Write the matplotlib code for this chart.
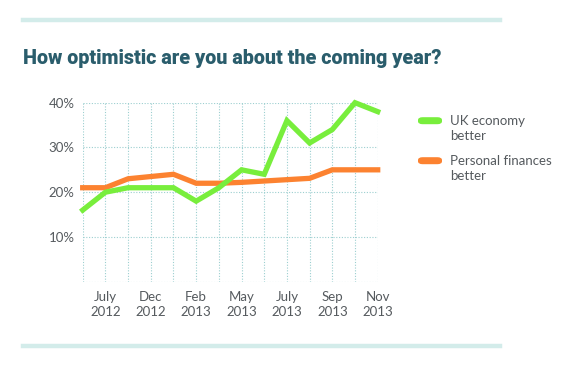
"""
Line chart: How optimistic are you about the coming year?
UK economy vs personal finances, mid 2012 - late 2013.
"""

import matplotlib.pyplot as plt
from matplotlib.patches import FancyBboxPatch
from matplotlib.lines import Line2D

# Data (percent)
uk_economy = [16, 20, 21, 21, 21, 18, 21, 25, 24, 36, 31, 34, 40, 38]
personal_finances = [21, 21, 23, 23.5, 24, 22, 22, 22.2, 22.5, 22.8, 23.1, 25, 25, 25]
tick_positions = [1, 3, 5, 7, 9, 11, 13]
tick_labels = ["July\n2012", "Dec\n2012", "Feb\n2013", "May\n2013",
               "July\n2013", "Sep\n2013", "Nov\n2013"]
y_ticks = [10, 20, 30, 40]
y_tick_labels = ["10%", "20%", "30%", "40%"]
series_names = ["UK economy\nbetter", "Personal finances\nbetter"]

GREEN = "#78ee3c"
ORANGE = "#fc8230"
TITLE_COLOR = "#2a5d6c"
GRID_COLOR = "#9ccfd0"
RULE_COLOR = "#d3ecea"
TEXT_COLOR = "#555a5e"

fig = plt.figure(figsize=(5.7, 3.68), dpi=100)
fig.patch.set_facecolor("white")

# Decorative rules top and bottom
fig.add_artist(Line2D([23 / 570, 500 / 570], [1 - 20 / 368] * 2, color=RULE_COLOR, lw=3.2))
fig.add_artist(Line2D([23 / 570, 500 / 570], [1 - 346 / 368] * 2, color=RULE_COLOR, lw=3.2))

fig.text(23 / 570, 1 - 58 / 368, "How optimistic are you about the coming year?",
         fontsize=14.2, fontweight="heavy", color=TITLE_COLOR,
         family=["Roboto", "DejaVu Sans"], va="center", ha="left")

ax = fig.add_axes([82.7 / 570, 1 - 281.7 / 368, 295 / 570, 179 / 368])
x = list(range(len(uk_economy)))
ax.plot(x, personal_finances, color=ORANGE, lw=3.8, solid_joinstyle="miter", clip_on=False, zorder=3)
ax.plot(x, uk_economy, color=GREEN, lw=3.8, solid_joinstyle="miter", clip_on=False, zorder=4)

ax.set_xlim(0, len(uk_economy) - 1)
ax.set_ylim(0, 40)
ax.set_xticks(x)
ax.set_xticklabels(["" for _ in x])
ax.set_yticks([0] + y_ticks)
ax.set_yticklabels([""] + y_tick_labels)
ax.grid(True, color=GRID_COLOR, linestyle=(0, (1, 1.5)), lw=0.8)
for spine in ax.spines.values():
    spine.set_visible(False)
ax.tick_params(length=0, pad=6, labelsize=9.5, labelcolor=TEXT_COLOR)
for lbl in ax.get_yticklabels():
    lbl.set_family(["Lato", "DejaVu Sans"])

for pos, lab in zip(tick_positions, tick_labels):
    ax.text(pos, -2.0, lab, ha="center", va="top", fontsize=9.5, color=TEXT_COLOR,
            family=["Lato", "DejaVu Sans"], linespacing=1.35, clip_on=False)

# Legend drawn by hand to match the rounded swatches
for i, (name, col) in enumerate(zip(series_names, [GREEN, ORANGE])):
    yc = 1 - (120.7 + 40 * i) / 368
    fig.add_artist(FancyBboxPatch((418 / 570, yc - 3.5 / 368), 24 / 570, 7 / 368,
                                  boxstyle="round,pad=0,rounding_size=0.008",
                                  facecolor=col, edgecolor="none"))
    fig.text(450 / 570, yc + 6 / 368, name, fontsize=9.5, color=TEXT_COLOR,
             family=["Lato", "DejaVu Sans"], va="top", ha="left", linespacing=1.3)

fig.savefig("out.png", dpi=100, facecolor="white")
